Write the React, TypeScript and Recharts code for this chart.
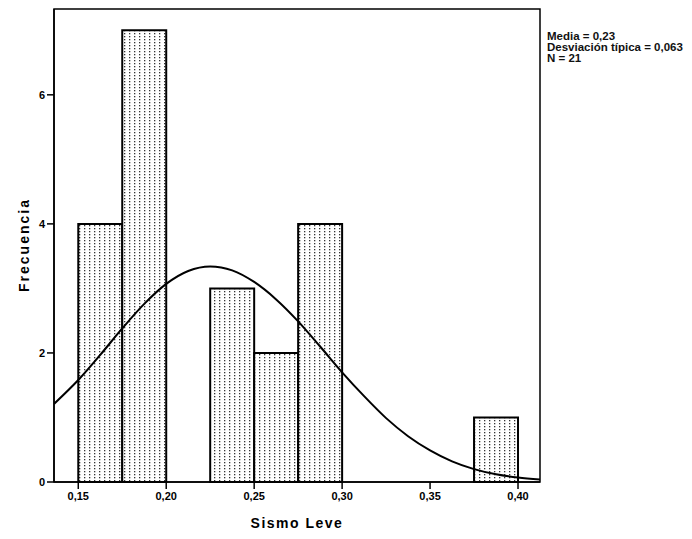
import React from "react";
import {
  ComposedChart,
  Line,
  XAxis,
  YAxis,
  ReferenceArea,
} from "recharts";

// histograma: inicio de cada intervalo y frecuencia
const binStart = [0.15, 0.175, 0.2, 0.225, 0.25, 0.275, 0.3, 0.325, 0.35, 0.375];
const counts = [4, 7, 0, 3, 2, 4, 0, 0, 0, 1];
const binWidth = 0.025;

// curva normal
const curveX = [
  0.1362, 0.15, 0.1625, 0.175, 0.1875, 0.2, 0.2125, 0.225, 0.2375, 0.25, 0.2625,
  0.275, 0.2875, 0.3, 0.3125, 0.325, 0.3375, 0.35, 0.3625, 0.375, 0.3875, 0.4,
  0.4125,
];
const curveY = [
  1.21, 1.58, 1.97, 2.38, 2.76, 3.07, 3.27, 3.34, 3.28, 3.1, 2.83, 2.49, 2.1,
  1.7, 1.33, 0.99, 0.71, 0.49, 0.32, 0.2, 0.12, 0.07, 0.04,
];

const xTicks = [0.15, 0.2, 0.25, 0.3, 0.35, 0.4];
const yTicks = [0, 2, 4, 6];
const xDomain = [0.1362, 0.4125];
const yDomain = [0, 7.33];

const statsLines = ["Media = 0,23", "Desviación típica = 0,063", "N = 21"];

const curveData = curveX.map((x, i) => ({ x, y: curveY[i] }));
const bins = binStart
  .map((start, i) => ({ start, end: start + binWidth, count: counts[i] }))
  .filter((b) => b.count > 0);

const FONT = "'Liberation Sans', Arial, sans-serif";

export default function App() {
  return (
    <div style={{ position: "relative", width: 684, height: 531, fontFamily: FONT }}>
      <ComposedChart
        width={684}
        height={531}
        margin={{ top: 1, right: 152, left: 16, bottom: 27 }}
      >
        <defs>
          <pattern id="dots" width="5" height="3" patternUnits="userSpaceOnUse">
            <rect width="5" height="3" fill="#fff" />
            <rect x="1" y="1" width="1.3" height="1.3" fill="#333" />
          </pattern>
        </defs>
        <XAxis
          dataKey="x"
          type="number"
          domain={xDomain}
          ticks={xTicks}
          allowDataOverflow
          height={30}
          tickSize={7}
          tickMargin={3}
          stroke="#000"
          strokeWidth={1.5}
          tick={{ fill: "#000", fontSize: 11, fontWeight: 700, fontFamily: FONT }}
          tickFormatter={(v) => v.toFixed(2).replace(".", ",")}
        />
        <YAxis
          type="number"
          domain={yDomain}
          ticks={yTicks}
          allowDataOverflow
          width={30}
          tickSize={7}
          tickMargin={2}
          stroke="#000"
          strokeWidth={1.5}
          tick={{ fill: "#000", fontSize: 11, fontWeight: 700, fontFamily: FONT }}
        />
        {bins.map((b) => (
          <ReferenceArea
            key={b.start}
            x1={b.start}
            x2={b.end}
            y1={0}
            y2={b.count}
            fill="url(#dots)"
            fillOpacity={1}
            stroke="#000"
            strokeWidth={2}
          />
        ))}
        <ReferenceArea
          x1={xDomain[0]}
          x2={xDomain[1]}
          y1={yDomain[0]}
          y2={yDomain[1]}
          fill="none"
          stroke="#000"
          strokeWidth={1.5}
        />
        <Line
          data={curveData}
          dataKey="y"
          type="monotone"
          stroke="#000"
          strokeWidth={2}
          dot={false}
          activeDot={false}
          isAnimationActive={false}
        />
      </ComposedChart>
      <div
        style={{
          position: "absolute",
          left: 16,
          top: 237,
          transform: "translate(-50%, -50%) rotate(-90deg)",
          fontSize: 14,
          fontWeight: 700,
          letterSpacing: 2,
          whiteSpace: "nowrap",
        }}
      >
        Frecuencia
      </div>
      <div
        style={{
          position: "absolute",
          left: 289,
          top: 515,
          transform: "translate(-50%, -50%)",
          fontSize: 14,
          fontWeight: 700,
          letterSpacing: 1.5,
          whiteSpace: "nowrap",
        }}
      >
        Sismo Leve
      </div>
      <div
        style={{
          position: "absolute",
          left: 539,
          top: 23,
          fontSize: 11.5,
          fontWeight: 700,
          lineHeight: "11px",
          whiteSpace: "nowrap",
          color: "#111",
        }}
      >
        {statsLines.map((s) => (
          <div key={s}>{s}</div>
        ))}
      </div>
    </div>
  );
}
